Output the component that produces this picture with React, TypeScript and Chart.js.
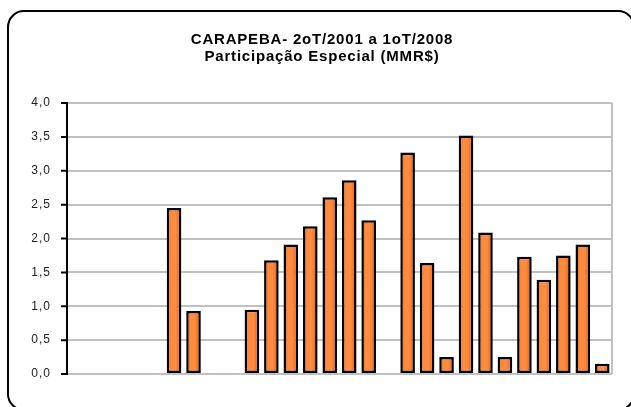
import React, { useEffect, useRef } from "react";
import { Chart, registerables } from "chart.js";

Chart.register(...registerables);

const titleLines = ["CARAPEBA- 2oT/2001 a 1oT/2008", "Participação Especial (MMR$)"];

const categories = [
  "2T/2001", "3T/2001", "4T/2001",
  "1T/2002", "2T/2002", "3T/2002", "4T/2002",
  "1T/2003", "2T/2003", "3T/2003", "4T/2003",
  "1T/2004", "2T/2004", "3T/2004", "4T/2004",
  "1T/2005", "2T/2005", "3T/2005", "4T/2005",
  "1T/2006", "2T/2006", "3T/2006", "4T/2006",
  "1T/2007", "2T/2007", "3T/2007", "4T/2007",
  "1T/2008",
];

const values: (number | null)[] = [
  null, null, null, null, null, 2.45, 0.93, null,
  null, 0.95, 1.68, 1.91, 2.18, 2.61, 2.86, 2.27,
  null, 3.27, 1.64, 0.25, 3.52, 2.09, 0.25, 1.73,
  1.39, 1.75, 1.91, 0.15,
];

const yTicks = [0, 0.5, 1, 1.5, 2, 2.5, 3, 3.5, 4];

const fontFamily = "'Liberation Sans', Arial, sans-serif";

const framePlugin = {
  id: "framePlugin",
  beforeDraw(chart: any) {
    const ctx = chart.ctx;
    ctx.save();
    ctx.fillStyle = "#ffffff";
    ctx.fillRect(0, 0, chart.width, chart.height);
    ctx.beginPath();
    ctx.lineWidth = 2;
    ctx.strokeStyle = "#000000";
    ctx.roundRect(8, 11, 626, 399, 16);
    ctx.stroke();
    ctx.fillStyle = "#000000";
    ctx.font = `bold 15px ${fontFamily}`;
    ctx.letterSpacing = "0.8px";
    ctx.textAlign = "center";
    ctx.textBaseline = "middle";
    ctx.fillText(titleLines[0], 322, 40);
    ctx.fillText(titleLines[1], 322, 57);
    ctx.restore();
    ctx.letterSpacing = "1px";
  },
  afterDatasetsDraw(chart: any) {
    const ctx = chart.ctx;
    ctx.letterSpacing = "0px";
    const area = chart.chartArea;
    const y = chart.scales.y;
    ctx.save();
    ctx.strokeStyle = "#c0c0c0";
    ctx.lineWidth = 2;
    ctx.beginPath();
    ctx.moveTo(area.right, area.top);
    ctx.lineTo(area.right, area.bottom);
    ctx.stroke();
    ctx.strokeStyle = "#000000";
    ctx.beginPath();
    yTicks.forEach((t) => {
      const py = y.getPixelForValue(t);
      ctx.moveTo(area.left - 6, py);
      ctx.lineTo(area.left, py);
    });
    ctx.moveTo(area.left, area.top - 1);
    ctx.lineTo(area.left, area.bottom + 1);
    ctx.stroke();
    ctx.restore();
  },
};

function barFill(c: any) {
  const chart = c.chart;
  const xs = chart.scales.x;
  if (!xs || c.dataIndex === undefined) return "#ff8533";
  const center = xs.getPixelForValue(c.dataIndex);
  const half = (xs.width / categories.length) * 0.75 / 2;
  if (!isFinite(center)) return "#ff8533";
  const g = chart.ctx.createLinearGradient(center - half, 0, center + half, 0);
  g.addColorStop(0, "#f0661c");
  g.addColorStop(0.3, "#ff8a3e");
  g.addColorStop(0.6, "#ff8c40");
  g.addColorStop(1, "#e8560f");
  return g;
}

export default function App() {
  const ref = useRef<HTMLCanvasElement | null>(null);
  useEffect(() => {
    if (!ref.current) return;
    const chart = new Chart(ref.current, {
      type: "bar",
      data: {
        labels: categories,
        datasets: [
          {
            data: values,
            backgroundColor: barFill,
            borderColor: "#000000",
            borderWidth: 2.5,
            borderSkipped: false,
            barPercentage: 0.75,
            categoryPercentage: 1,
          },
        ],
      },
      options: {
        animation: false,
        responsive: false,
        devicePixelRatio: 1,
        layout: { padding: { top: 103, right: 19, bottom: 33, left: 0 } },
        plugins: {
          legend: { display: false },
          title: { display: false },
          tooltip: { enabled: false },
        },
        scales: {
          x: { display: false },
          y: {
            min: 0,
            max: 4,
            afterFit(scale: any) {
              scale.width = 67;
            },
            afterBuildTicks(scale: any) {
              scale.ticks = yTicks.map((v) => ({ value: v }));
            },
            ticks: {
              padding: 16,
              color: "#222222",
              font: { family: fontFamily, size: 12 },
              callback: (v: any) => Number(v).toFixed(1).replace(".", ","),
            },
            grid: { color: "#c0c0c0", lineWidth: 2, drawTicks: false },
            border: { display: false },
          },
        },
      },
      plugins: [framePlugin],
    });
    return () => chart.destroy();
  }, []);
  return (
    <div style={{ position: "fixed", left: 0, top: 0, width: 631, height: 407, background: "#fff" }}>
      <canvas ref={ref} width={631} height={407} />
    </div>
  );
}
